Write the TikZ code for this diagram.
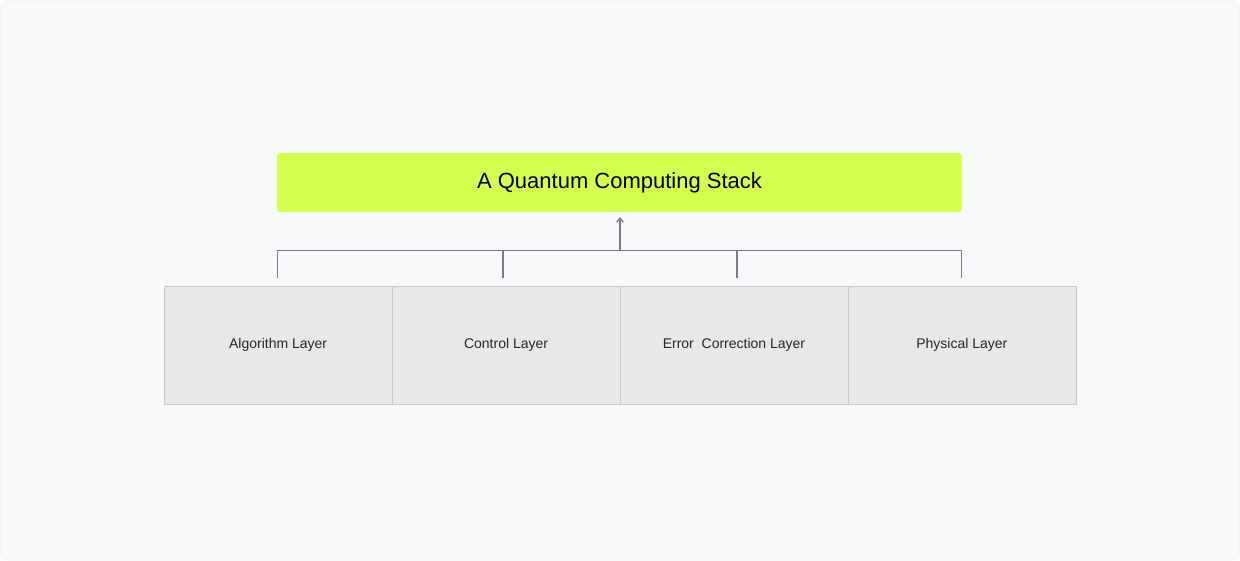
\documentclass[tikz,border=0pt]{standalone}
\usepackage{fontspec}
\setmainfont{Liberation Sans}
\usetikzlibrary{arrows.meta}
\definecolor{bg}{HTML}{F8F9FB}
\definecolor{lime}{HTML}{D4FF4F}
\definecolor{layer}{HTML}{E9E7E7}
\definecolor{edge}{HTML}{C9C9CC}
\definecolor{conn}{HTML}{7A7A88}
\begin{document}
\begin{tikzpicture}[x=0.75pt,y=-0.75pt,
  layerbox/.style={draw=edge,fill=layer,minimum width=228*0.75pt,minimum height=118*0.75pt,inner sep=0pt,font=\fontsize{10.5}{12}\selectfont,text=black!85},
  wire/.style={draw=conn,line width=0.9pt}]
\fill[bg,draw=black!6,rounded corners=6pt] (0,0) rectangle (1240,560);
\useasboundingbox (0,0) rectangle (1240,560);
\node[fill=lime,rounded corners=2pt,minimum width=685*0.75pt,minimum height=59*0.75pt,inner sep=0pt,font=\fontsize{16.5}{18}\selectfont] (title) at (619.5,182.5) {A Quantum Computing Stack};
\node[layerbox] (l1) at (278,345) {Algorithm Layer};
\node[layerbox] (l2) at (506,345) {Control Layer};
\node[layerbox] (l3) at (734,345) {Error\ \ Correction Layer};
\node[layerbox] (l4) at (962,345) {Physical Layer};
\coordinate (j) at (620,250);
\coordinate (a) at (277,250); \coordinate (b) at (962,250);
\coordinate (d1) at (277,278); \coordinate (d2) at (503,278);
\coordinate (d3) at (737,278); \coordinate (d4) at (962,278);
\draw[wire] (d1) -- (a) -- (b) -- (d4);
\draw[wire] (d2) -- (503,250);
\draw[wire] (d3) -- (737,250);
\draw[wire,-{Straight Barb[length=3pt,width=5pt]}] (j) -- (620,217);
\end{tikzpicture}
\end{document}
